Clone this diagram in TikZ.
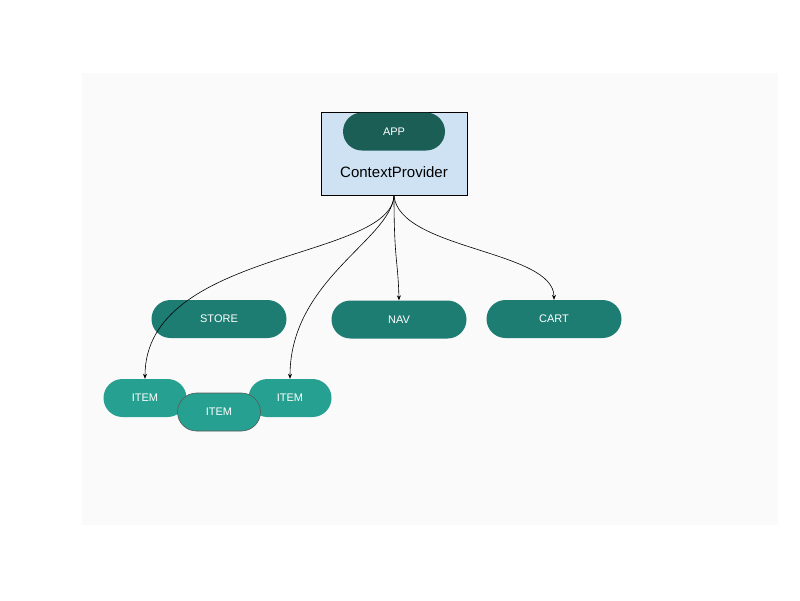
\documentclass[tikz,border=0pt]{standalone}
\usepackage{fontspec}
\setmainfont{Liberation Sans}
\usetikzlibrary{arrows.meta,shapes.misc}
\definecolor{bg}{HTML}{FAFAFA}
\definecolor{ctx}{HTML}{CFE2F3}
\definecolor{appc}{HTML}{1A5E55}
\definecolor{mid}{HTML}{1E7D73}
\definecolor{itm}{HTML}{26A090}
\begin{document}
\begin{tikzpicture}[x=1pt,y=-1pt,
 pill/.style={rounded rectangle, draw=none, text=white, font=\fontsize{11}{13}\selectfont, minimum height=38pt, inner sep=0pt},
 lvl/.style={pill, fill=mid, minimum width=135pt},
 item/.style={pill, fill=itm, minimum width=83pt},
 arr/.style={-{Stealth[length=5pt,width=4pt]}, line width=0.6pt}]
\useasboundingbox (0,0) rectangle (800,600);
\fill[bg] (82,73) rectangle (778,525);
\node[draw=black, fill=ctx, minimum width=146pt, minimum height=83pt, line width=0.7pt, inner sep=0pt] (ctx) at (394,153.5) {};
\node[font=\fontsize{15}{17}\selectfont] (ctxl) at (394,172) {ContextProvider};
\node[pill, fill=appc, minimum width=102pt] (app) at (394,131.5) {APP};
\node[lvl] (store) at (219,319) {STORE};
\node[lvl] (nav) at (399,319.5) {NAV};
\node[lvl] (cart) at (554,319) {CART};
\node[item] (i1) at (145,398) {ITEM};
\node[item] (i3) at (290,398) {ITEM};
\node[item, draw=gray!70!black, line width=0.6pt] (i2) at (219,412) {ITEM};
\coordinate (src) at (394,196);
\draw[arr] (src) .. controls (394,260) and (398,260) .. (nav.north);
\draw[arr] (src) .. controls (400,250) and (554,250) .. (cart.north);
\draw[arr] (src) .. controls (390,260) and (145,250) .. (i1.north);
\draw[arr] (src) .. controls (390,240) and (290,280) .. (i3.north);
\end{tikzpicture}
\end{document}
